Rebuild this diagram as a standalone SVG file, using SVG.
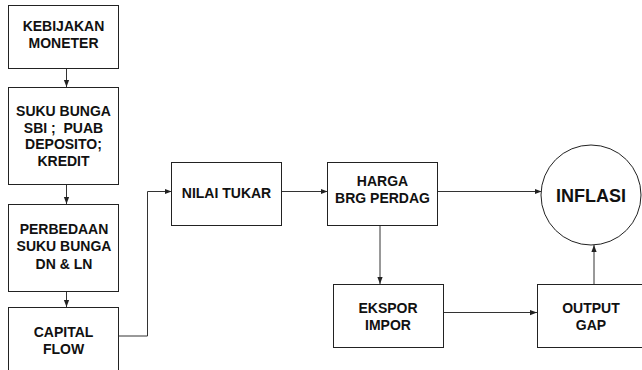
<svg xmlns="http://www.w3.org/2000/svg" width="642" height="370" viewBox="0 0 642 370">
<style>
.box{fill:#fff;stroke:#222;stroke-width:1}
.t{font-family:"Liberation Sans",Arial,sans-serif;font-weight:bold;font-size:14px;fill:#111;text-anchor:middle;white-space:pre}
.big{font-size:18px}
.c{fill:none;stroke:#333;stroke-width:1}
</style>
<defs>
<marker id="ah" viewBox="0 0 8 8" refX="8" refY="4" markerWidth="7" markerHeight="7" markerUnits="userSpaceOnUse" orient="auto">
<path d="M0,1 L8,4 L0,7 Z" fill="#222"/>
</marker>
</defs>
<rect width="642" height="370" fill="#fff"/>
<g id="connectors">
<line class="c" x1="66.5" y1="69" x2="66.5" y2="87" marker-end="url(#ah)"/>
<line class="c" x1="66.5" y1="185" x2="66.5" y2="204" marker-end="url(#ah)"/>
<line class="c" x1="66.5" y1="292" x2="66.5" y2="307" marker-end="url(#ah)"/>
<polyline class="c" points="118.5,336 147.5,336 147.5,191.5 171.5,191.5" marker-end="url(#ah)"/>
<line class="c" x1="281.5" y1="191.5" x2="327.5" y2="191.5" marker-end="url(#ah)"/>
<line class="c" x1="438" y1="191.5" x2="541.5" y2="191.5" marker-end="url(#ah)"/>
<line class="c" x1="380" y1="226" x2="380" y2="284" marker-end="url(#ah)"/>
<line class="c" x1="444" y1="312.5" x2="537" y2="312.5" marker-end="url(#ah)"/>
<line class="c" x1="594" y1="284" x2="594" y2="245" marker-end="url(#ah)"/>
</g>
<g id="kebijakan">
<rect class="box" x="8.5" y="5.5" width="110" height="63"/>
<text class="t" x="63.5" y="30.5">KEBIJAKAN</text>
<text class="t" x="63.5" y="47.5">MONETER</text>
</g>
<g id="sukubunga">
<rect class="box" x="8.5" y="87.5" width="110" height="97"/>
<text class="t" x="63.5" y="115.5">SUKU BUNGA</text>
<text class="t" x="63.5" y="132.5">SBI ;  PUAB</text>
<text class="t" x="63.5" y="149">DEPOSITO;</text>
<text class="t" x="63.5" y="165.5">KREDIT</text>
</g>
<g id="perbedaan">
<rect class="box" x="8.5" y="204.5" width="110" height="87"/>
<text class="t" x="64" y="233.5">PERBEDAAN</text>
<text class="t" x="64" y="251">SUKU BUNGA</text>
<text class="t" x="64" y="268.5">DN &amp; LN</text>
</g>
<g id="capital">
<rect class="box" x="8.5" y="307.5" width="110" height="70"/>
<text class="t" x="63.5" y="337">CAPITAL</text>
<text class="t" x="63.5" y="353.5">FLOW</text>
</g>
<g id="nilaitukar">
<rect class="box" x="171.5" y="162.5" width="110" height="63"/>
<text class="t" x="226.5" y="197.5">NILAI TUKAR</text>
</g>
<g id="harga">
<rect class="box" x="327.5" y="162.5" width="110" height="63"/>
<text class="t" x="382.5" y="186">HARGA</text>
<text class="t" x="382.5" y="203">BRG PERDAG</text>
</g>
<g id="inflasi">
<circle class="box" cx="591" cy="195" r="50"/>
<text class="t big" x="591" y="201.5">INFLASI</text>
</g>
<g id="ekspor">
<rect class="box" x="333.5" y="284.5" width="110" height="63"/>
<text class="t" x="388" y="313">EKSPOR</text>
<text class="t" x="388" y="329.5">IMPOR</text>
</g>
<g id="outputgap">
<rect class="box" x="537.5" y="284.5" width="110" height="63"/>
<text class="t" x="591" y="313">OUTPUT</text>
<text class="t" x="591" y="329.5">GAP</text>
</g>
</svg>
